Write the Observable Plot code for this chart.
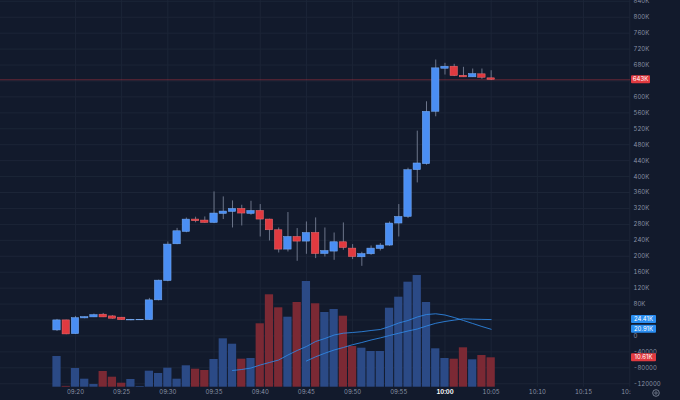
<!DOCTYPE html>
<html><head><meta charset="utf-8">
<script src="https://cdn.jsdelivr.net/npm/d3@7"></script>
<script src="https://cdn.jsdelivr.net/npm/@observablehq/plot@0.6"></script>
<style>
body{margin:0;background:#121a2c}
#chart{position:relative;width:680px;height:400px;background:#121a2c;overflow:hidden}
#chart svg{position:absolute;left:0;top:0}
</style>
</head><body><div id="chart"></div>
<script>
// ---- data (prices in K, volumes in K) ----
const times = ["09:18","09:19","09:20","09:21","09:22","09:23","09:24","09:25","09:26","09:27","09:28","09:29",
"09:30","09:31","09:32","09:33","09:34","09:35","09:36","09:37","09:38","09:39","09:40","09:41","09:42","09:43",
"09:44","09:45","09:46","09:47","09:48","09:49","09:50","09:51","09:52","09:53","09:54","09:55","09:56","09:57",
"09:58","09:59","10:00","10:01","10:02","10:03","10:04","10:05"];
const opens = [13.8,39,4.5,44,46.5,53.3,49,45.8,38.9,39.2,39.7,89.3,137.8,230,261,292.1,289.6,283.6,306.2,311.2,
318.8,306.2,313.7,292.1,265.2,216.7,248.4,236.8,258.4,205.6,211.7,235.1,219.2,197.4,204.9,218.2,226.8,282.1,298.7,
416.1,431.2,562.6,670.7,675.8,653.1,649.1,656.7,646.6];
const highs = [41.5,39.5,49,48,54.8,56.5,51,46.5,41.5,40,94.3,140,235.8,270,296,298,298.7,361.5,349,338.9,
328,338,329.8,293,271,309.7,269.5,286.1,296.2,271,258.4,283.6,229.3,210,225.8,231.8,286.1,329.8,421,
514.1,587.8,692.6,684.3,681.8,674.3,670,670,665.7];
const lows = [11.3,3,4,43,46,46,42,39,38,38.5,39,88,136,229,259,284,283,282,292.1,271,
276,303,248.4,238.3,208.2,210.7,187.3,204.9,194.1,198.1,189.8,214.9,191.6,174.7,202.4,213.2,225,248.4,294.6,
384.1,428.6,550.1,654.9,651,648.6,648.6,644.1,641];
const closes = [39,3.8,44.7,47.3,52.3,46.5,43.2,39.7,40.5,39.5,89.3,138.8,229.3,262.7,292,287.9,283.6,307.2,312.2,318.8,
307.2,313.7,292.1,265.2,216.7,248.4,236.8,258.4,205.6,213.2,235.1,220.7,198.1,205.6,219.2,226.8,282.1,298.7,416.1,
432.9,562.6,671.7,675.8,652.4,649.1,657.4,648.1,643];
const volumes = [11.08,0.3,6.75,2.89,0.97,5.67,3.61,1.44,2.78,0.25,5.78,4.95,6.86,2.89,7.73,6.5,6.03,10.0,17.47,15.52,
10.11,10.36,22.89,33.36,28.66,25.27,30.58,38.16,30.11,26.97,28.05,25.63,14.69,14.08,12.89,12.89,28.52,32.49,37.91,
40.32,30.58,13.86,10.36,10.11,14.22,9.89,11.44,10.61];
// volume moving averages
const maFastStart = "09:37";
const maFast = [6.03,6.39,6.93,8.01,8.92,9.82,11.62,13.25,14.69,16.5,17.58,18.84,19.49,19.75,20.04,20.47,20.83,21.91,
23.18,24.08,25.34,26.24,26.5,26.06,25.16,24.08,23.0,21.91,20.91];
const maSlowStart = "09:45";
const maSlow = [9.46,10.97,12.27,13.43,14.33,15.34,16.14,17.04,17.8,18.66,19.49,20.29,21.01,22.09,23.07,23.72,24.22,
24.69,24.58,24.48,24.41];
const priceTicks = [-120,-80,-40,0,40,80,120,160,200,240,280,320,360,400,440,480,520,560,600,640,680,720,760,800,840];
const hiddenPriceLabels = [40]; // covered by the volume badges in the reference
const timeTicks = ["09:20","09:25","09:30","09:35","09:40","09:45","09:50","09:55","10:00","10:05","10:10","10:15","10:20"];
const boldTick = "10:00";

// ---- helpers ----
const toDate = (s, sec = 0) => new Date(Date.UTC(2024, 0, 2, +s.slice(0, 2), +s.slice(3, 5), sec));
const candles = times.map((t, i) => ({
  time: toDate(t), open: opens[i], high: highs[i], low: lows[i], close: closes[i], volume: volumes[i],
  up: closes[i] >= opens[i]
}));
const idx0 = times.indexOf(maFastStart), idx1 = times.indexOf(maSlowStart);
const fastData = maFast.map((v, i) => ({time: candles[idx0 + i].time, value: v}));
const slowData = maSlow.map((v, i) => ({time: candles[idx1 + i].time, value: v}));
const xDomain = [toDate("09:11", 53), toDate("10:20", 5)];
const bodyHalf = 24000, barHalf = 30000;
const BG = "#121a2c", GRID = "#1c2537", TXT = "#8a93a6";
const UP = "#4a8ef3", DOWN = "#e13a40", VUP = "#2b4a86", VDOWN = "#7b2934";
const font = "Inter, Roboto, 'DejaVu Sans', sans-serif";
const common = {width: 680, height: 400, marginLeft: 0, marginRight: 50, marginTop: 0, marginBottom: 13.3};
const tickDates = timeTicks.map(t => toDate(t));

const price = Plot.plot({
  ...common,
  style: {background: "transparent", color: TXT, fontFamily: font, fontSize: "6px"},
  x: {type: "utc", domain: xDomain, axis: null},
  y: {domain: [-128.7, 842]},
  marks: [
    Plot.gridX(tickDates, {stroke: GRID, strokeOpacity: 1}),
    Plot.gridY(priceTicks, {stroke: GRID, strokeOpacity: 1}),
    Plot.ruleY([closes[closes.length - 1]], {stroke: DOWN, strokeOpacity: 0.4}),
    Plot.ruleX(candles, {x: "time", y1: "low", y2: "high", stroke: "#6b7489", strokeWidth: 1}),
    Plot.rect(candles, {
      x1: d => new Date(+d.time - bodyHalf), x2: d => new Date(+d.time + bodyHalf),
      y1: "open", y2: "close",
      fill: d => d.up ? UP : DOWN, stroke: d => d.up ? "#7aaef6" : "#ef6e72", strokeWidth: 0.5
    }),
    Plot.axisY(priceTicks.filter(v => !hiddenPriceLabels.includes(v)), {
      anchor: "right", tickSize: 0, tickPadding: 3, textAnchor: "start", fill: TXT, fontSize: 6,
      tickFormat: v => v < 0 ? String(v * 1000) : v === 0 ? "0" : v + "K"
    })
  ]
});

const vol = Plot.plot({
  ...common,
  style: {background: "transparent", color: TXT, fontFamily: font, fontSize: "6px"},
  x: {type: "utc", domain: xDomain},
  y: {domain: [0, 139.6], axis: null},
  marks: [
    Plot.rectY(candles, {
      x1: d => new Date(+d.time - barHalf), x2: d => new Date(+d.time + barHalf), y: "volume",
      fill: d => d.up ? VUP : VDOWN, insetLeft: 0.5, insetRight: 0.5
    }),
    Plot.line(fastData, {x: "time", y: "value", stroke: "#2f8ae9", strokeWidth: 1, strokeOpacity: 0.85}),
    Plot.line(slowData, {x: "time", y: "value", stroke: "#2f8ae9", strokeWidth: 1, strokeOpacity: 0.85}),
    Plot.axisX(tickDates.filter((d, i) => timeTicks[i] !== boldTick), {
      tickSize: 0, tickPadding: 3, fill: TXT, fontSize: 6, tickFormat: d3.utcFormat("%H:%M")
    }),
    Plot.axisX([toDate(boldTick)], {
      tickSize: 0, tickPadding: 3, fill: "#ffffff", fontSize: 6, fontWeight: "bold", tickFormat: d3.utcFormat("%H:%M")
    })
  ]
});

const chart = document.getElementById("chart");
chart.append(price, vol);

// ---- price-scale badges and corner decorations ----
const fmtK = v => v.toFixed(2) + "K";
function badge(svg, y, w, fill, label) {
  const g = d3.select(svg).append("g");
  g.append("rect").attr("x", 631).attr("y", y - 4).attr("width", w).attr("height", 8)
    .attr("rx", 1).attr("fill", fill);
  g.append("text").attr("x", 631 + w / 2).attr("y", y).attr("dy", "0.35em")
    .attr("text-anchor", "middle").attr("fill", "#ffffff").attr("font-size", 6)
    .attr("font-family", font).text(label);
}
const yP = price.scale("y"), yV = vol.scale("y");
const lastClose = closes[closes.length - 1];
badge(price, yP.apply(lastClose), 19, DOWN, Math.round(lastClose) + "K");
// mask the x-axis area under the price scale (clips the last time label)
d3.select(vol).append("rect").attr("x", 631).attr("y", 387).attr("width", 49).attr("height", 13).attr("fill", BG);
badge(vol, yV.apply(maSlow[maSlow.length - 1]), 25, "#2a8df0", fmtK(maSlow[maSlow.length - 1]));
badge(vol, yV.apply(maFast[maFast.length - 1]), 25, "#2a8df0", fmtK(maFast[maFast.length - 1]));
badge(vol, yV.apply(volumes[volumes.length - 1]), 25, DOWN, fmtK(volumes[volumes.length - 1]));
const gear = d3.select(vol).append("g").attr("transform", "translate(656,393)");
gear.append("circle").attr("r", 3.3).attr("fill", "none").attr("stroke", TXT).attr("stroke-width", 0.8);
gear.append("circle").attr("r", 1.2).attr("fill", "none").attr("stroke", TXT).attr("stroke-width", 0.7);
</script>
</body></html>
